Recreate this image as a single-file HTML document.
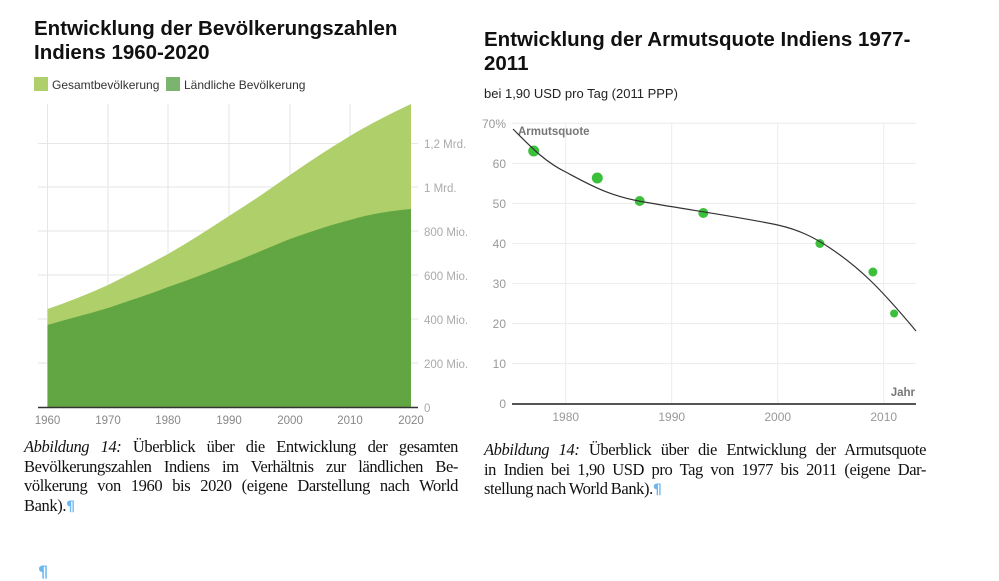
<!DOCTYPE html>
<html><head><meta charset="utf-8"><style>
body{margin:0;width:999px;height:580px;background:#fff;position:relative;overflow:hidden;font-family:"Liberation Sans",sans-serif}
.t{position:absolute;font-weight:bold;font-size:20.5px;line-height:24px;color:#111}
.cap{position:absolute;font-family:"Liberation Serif",serif;font-size:16.5px;line-height:19.6px;color:#111;letter-spacing:-0.4px;word-spacing:-0.5px}
.cap div{text-align:justify;text-align-last:justify;white-space:nowrap}
.cap div.l{text-align-last:left}
.p{color:#6ab7f2;font-family:"DejaVu Sans",sans-serif;font-weight:bold;font-size:14px}
</style></head><body>
<div class="t" style="left:34px;top:17px">Entwicklung der Bevölkerungszahlen<br>Indiens 1960-2020</div>
<div class="t" style="left:484px;top:28px">Entwicklung der Armutsquote Indiens 1977-<br>2011</div>
<div style="position:absolute;left:484px;top:86px;font-size:13px;color:#222">bei 1,90 USD pro Tag (2011 PPP)</div>
<svg width="999" height="580" style="position:absolute;left:0;top:0" font-family="Liberation Sans, sans-serif">
<rect x="34" y="77" width="14" height="14" fill="#aecf6a"/>
<text x="52" y="89" font-size="12" fill="#333">Gesamtbevölkerung</text>
<rect x="166" y="77" width="14" height="14" fill="#7bb46f"/>
<text x="184" y="89" font-size="12" fill="#333">Ländliche Bevölkerung</text>
<g stroke="#e6e6e6" stroke-width="1">
<line x1="47.5" y1="104" x2="47.5" y2="407"/><line x1="108" y1="104" x2="108" y2="407"/><line x1="168" y1="104" x2="168" y2="407"/><line x1="229" y1="104" x2="229" y2="407"/><line x1="290" y1="104" x2="290" y2="407"/><line x1="350" y1="104" x2="350" y2="407"/>
<line x1="38" y1="363" x2="418" y2="363"/><line x1="38" y1="319" x2="418" y2="319"/><line x1="38" y1="275" x2="418" y2="275"/><line x1="38" y1="231" x2="418" y2="231"/><line x1="38" y1="187" x2="418" y2="187"/><line x1="38" y1="143.5" x2="418" y2="143.5"/>
</g>
<path d="M47.5,309 C68,302 88,294 108,285 C128,275 148,265 168,254 C189,242 209,229 229,216 C250,203 270,189 290,175 C310,161 330,148 350,136 C370,124 390,114 411,104 L411,407 L47.5,407Z" fill="#aecf6a"/>
<path d="M47.5,325 C68,319 88,314 108,308 C128,301 148,295 168,287 C189,280 209,272 229,264 C250,256 270,247 290,239 C310,232 330,225 350,220 C370,214 390,211 411,209 L411,407 L47.5,407Z" fill="#62a543"/>
<line x1="38" y1="407.5" x2="418" y2="407.5" stroke="#333" stroke-width="1.5"/>
<g font-size="11.5" fill="#aaa">
<text x="424" y="148">1,2 Mrd.</text><text x="424" y="192">1 Mrd.</text><text x="424" y="236">800 Mio.</text><text x="424" y="280">600 Mio.</text><text x="424" y="324">400 Mio.</text><text x="424" y="368">200 Mio.</text><text x="424" y="412">0</text>
</g>
<g font-size="11.5" fill="#888" text-anchor="middle">
<text x="47.5" y="424">1960</text><text x="108" y="424">1970</text><text x="168" y="424">1980</text><text x="229" y="424">1990</text><text x="290" y="424">2000</text><text x="350" y="424">2010</text><text x="411" y="424">2020</text>
</g>
<g stroke="#ececec" stroke-width="1">
<line x1="565.7" y1="123" x2="565.7" y2="403"/><line x1="671.7" y1="123" x2="671.7" y2="403"/><line x1="777.7" y1="123" x2="777.7" y2="403"/><line x1="883.7" y1="123" x2="883.7" y2="403"/>
<line x1="512" y1="123.3" x2="916" y2="123.3"/><line x1="512" y1="163.4" x2="916" y2="163.4"/><line x1="512" y1="203.4" x2="916" y2="203.4"/><line x1="512" y1="243.5" x2="916" y2="243.5"/><line x1="512" y1="283.5" x2="916" y2="283.5"/><line x1="512" y1="323.6" x2="916" y2="323.6"/><line x1="512" y1="363.6" x2="916" y2="363.6"/>
</g>
<line x1="512" y1="404" x2="916" y2="404" stroke="#555" stroke-width="2"/>
<g font-size="12" fill="#999" text-anchor="end">
<text x="506" y="128">70%</text><text x="506" y="168">60</text><text x="506" y="208">50</text><text x="506" y="248">40</text><text x="506" y="288">30</text><text x="506" y="328">20</text><text x="506" y="368">10</text><text x="506" y="408">0</text>
</g>
<g font-size="12" fill="#999" text-anchor="middle">
<text x="565.7" y="421">1980</text><text x="671.7" y="421">1990</text><text x="777.7" y="421">2000</text><text x="883.7" y="421">2010</text>
</g>
<text x="518" y="135" font-size="11.5" font-weight="bold" fill="#777">Armutsquote</text>
<text x="915" y="396" font-size="11.5" font-weight="bold" fill="#777" text-anchor="end">Jahr</text>
<g fill="#3cc03c">
<circle cx="533.7" cy="151" r="5.5"/><circle cx="597.3" cy="178" r="5.5"/><circle cx="639.7" cy="201" r="5"/><circle cx="703.3" cy="213" r="5"/><circle cx="819.9" cy="243.5" r="4.5"/><circle cx="872.9" cy="272" r="4.5"/><circle cx="894.1" cy="313.5" r="4"/>
</g>
<path d="M513,129 C530,146 545,162 565.7,172 C590,185 610,197 650,203 C690,210 740,217 777.7,225 C800,230 815,238 830,248 C860,268 880,288 916,331" fill="none" stroke="#333" stroke-width="1.2"/>
</svg>
<div class="cap" style="left:24px;top:437px;width:434px">
<div><i>Abbildung 14:</i> Überblick über die Entwicklung der gesamten</div>
<div>Bevölkerungszahlen Indiens im Verhältnis zur ländlichen Be-</div>
<div>völkerung von 1960 bis 2020 (eigene Darstellung nach World</div>
<div class="l">Bank).<span class="p">¶</span></div>
</div>
<div class="cap" style="left:484px;top:440px;width:442px">
<div><i>Abbildung 14:</i> Überblick über die Entwicklung der Armutsquote</div>
<div>in Indien bei 1,90 USD pro Tag von 1977 bis 2011 (eigene Dar-</div>
<div class="l">stellung nach World Bank).<span class="p">¶</span></div>
</div>
<div class="p" style="position:absolute;left:38px;top:562px;font-size:16px">¶</div>
</body></html>
